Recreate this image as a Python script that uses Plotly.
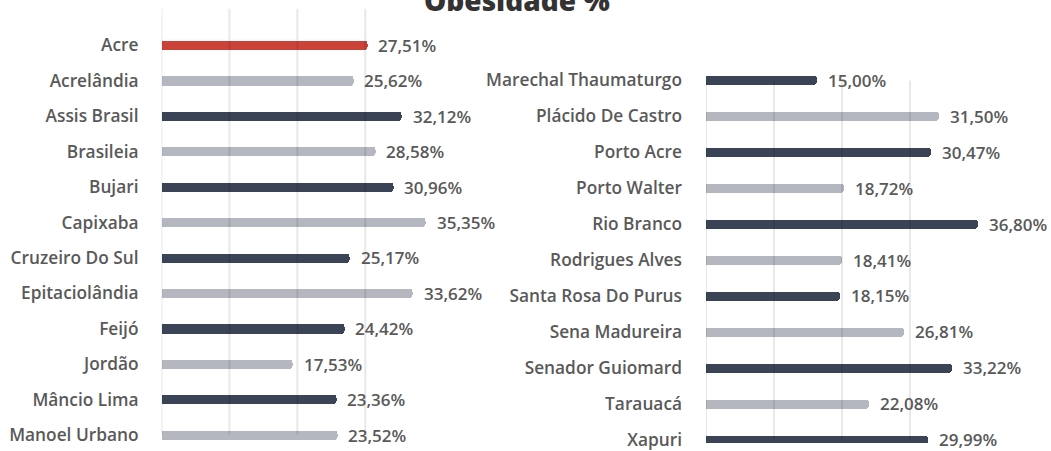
import plotly.graph_objects as go

# Obesity share (%) by municipality of Acre, split into two columns
left_names = ["Acre", "Acrelândia", "Assis Brasil", "Brasileia", "Bujari", "Capixaba",
              "Cruzeiro Do Sul", "Epitaciolândia", "Feijó", "Jordão", "Mâncio Lima",
              "Manoel Urbano"]
left_values = [27.51, 25.62, 32.12, 28.58, 30.96, 35.35, 25.17, 33.62, 24.42, 17.53,
               23.36, 23.52]

right_names = ["Marechal Thaumaturgo", "Plácido De Castro", "Porto Acre", "Porto Walter",
               "Rio Branco", "Rodrigues Alves", "Santa Rosa Do Purus", "Sena Madureira",
               "Senador Guiomard", "Tarauacá", "Xapuri"]
right_values = [15.00, 31.50, 30.47, 18.72, 36.80, 18.41, 18.15, 26.81, 33.22, 22.08,
                29.99]

RED = "#CB4239"
DARK = "#3B4357"
LIGHT = "#B4B7C0"
TEXT = "#595959"
GRID = "rgba(0,0,0,0.09)"
FONT = "Open Sans"

W, H = 1051, 451


def left_colors(names):
    # state total in red, then alternating light / dark
    cols = [RED]
    for i in range(1, len(names)):
        cols.append(LIGHT if i % 2 == 1 else DARK)
    return cols


def right_colors(names):
    return [DARK if i % 2 == 0 else LIGHT for i in range(len(names))]


def fmt(v):
    return f"{v:.2f}".replace(".", ",") + "%"


fig = go.Figure()

fig.add_trace(go.Bar(
    x=left_values, y=left_names, orientation="h",
    marker=dict(color=left_colors(left_names), cornerradius=3, line=dict(width=0)),
    width=0.26, xaxis="x", yaxis="y", hoverinfo="skip", showlegend=False,
))
fig.add_trace(go.Bar(
    x=right_values, y=right_names, orientation="h",
    marker=dict(color=right_colors(right_names), cornerradius=3, line=dict(width=0)),
    width=0.26, xaxis="x2", yaxis="y2", hoverinfo="skip", showlegend=False,
))

# pixel geometry of the two panels
L0, LS = 161.5, 7.48      # left zero position, px per unit
R0, RS = 706.0, 7.39      # right zero position, px per unit
L_MAX, R_MAX = 36.2, 37.0
L_TOP_ROW, L_PITCH = 45.3, 36.15
R_TOP_ROW, R_PITCH = 80.8, 36.7
L_PAD_TOP, L_PAD_BOT = 8.0, 450.0
R_PAD_TOP, R_PAD_BOT = 70.0, 451.0


def py(px):
    return 1 - px / H


l_rng = [(L_PAD_BOT - L_TOP_ROW) / L_PITCH, (L_PAD_TOP - L_TOP_ROW) / L_PITCH]
r_rng = [(R_PAD_BOT - R_TOP_ROW) / R_PITCH, (R_PAD_TOP - R_TOP_ROW) / R_PITCH]

tickfont = dict(family=FONT, size=17.3, color=TEXT, weight=600)

fig.update_layout(
    width=W, height=H,
    margin=dict(l=0, r=0, t=0, b=0),
    paper_bgcolor="white", plot_bgcolor="rgba(0,0,0,0)",
    bargap=0,
    xaxis=dict(domain=[L0 / W, (L0 + L_MAX * LS) / W], range=[0, L_MAX],
               showgrid=False, zeroline=False, showticklabels=False, ticks=""),
    yaxis=dict(domain=[py(L_PAD_BOT), py(L_PAD_TOP)], range=l_rng, type="category",
               categoryorder="array", categoryarray=left_names,
               showgrid=False, zeroline=False, showline=False, ticks="",
               tickfont=tickfont, ticklabelstandoff=22),
    xaxis2=dict(domain=[R0 / W, (R0 + R_MAX * RS) / W], range=[0, R_MAX],
                showgrid=False, zeroline=False, showticklabels=False, ticks="",
                anchor="y2"),
    yaxis2=dict(domain=[py(R_PAD_BOT), py(R_PAD_TOP)], range=r_rng, type="category",
                categoryorder="array", categoryarray=right_names, anchor="x2",
                showgrid=False, zeroline=False, showline=False, ticks="",
                tickfont=tickfont, ticklabelstandoff=23),
)

# vertical gridlines, drawn over the bars as light translucent rules
shapes = []
for k in range(4):
    shapes.append(dict(type="line", xref="x", yref="paper", x0=k * 9.08, x1=k * 9.08,
                       y0=py(442.5), y1=py(8), line=dict(color=GRID, width=2),
                       layer="above"))
    shapes.append(dict(type="line", xref="x2", yref="paper", x0=k * 9.2, x1=k * 9.2,
                       y0=py(447), y1=py(81), line=dict(color=GRID, width=2),
                       layer="above"))
fig.update_layout(shapes=shapes)

# value labels
ann = []
valfont = dict(family=FONT, size=17, color=TEXT, weight=600)
for n, v in zip(left_names, left_values):
    ann.append(dict(x=v, y=n, xref="x", yref="y", text=fmt(v), showarrow=False,
                    xanchor="left", yanchor="middle", xshift=9, font=valfont))
for n, v in zip(right_names, right_values):
    ann.append(dict(x=v, y=n, xref="x2", yref="y2", text=fmt(v), showarrow=False,
                    xanchor="left", yanchor="middle", xshift=9, font=valfont))

ann.append(dict(x=517 / W, y=1, xref="paper", yref="paper", text="Obesidade %",
                showarrow=False, xanchor="center", yanchor="middle", yshift=1,
                font=dict(family=FONT, size=28, color="#333333", weight=800)))
fig.update_layout(annotations=ann)

fig.write_html("out.html")
